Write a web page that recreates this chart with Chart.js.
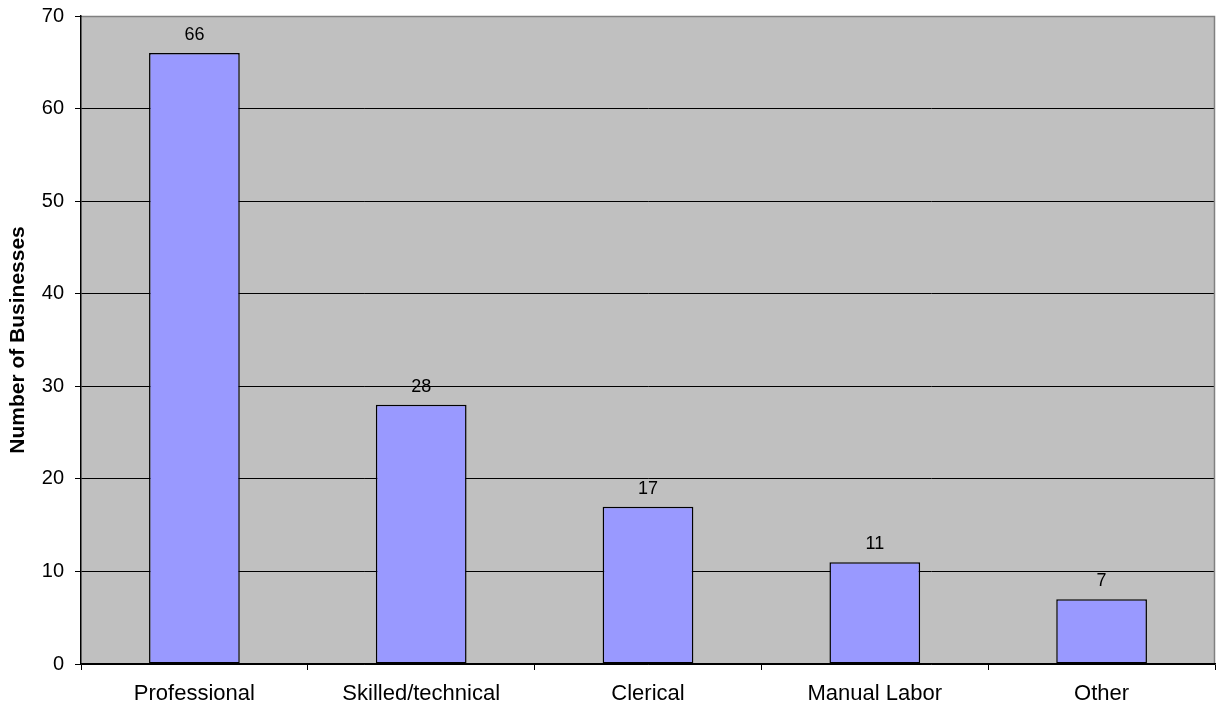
<!DOCTYPE html>
<html>
<head>
<meta charset="utf-8">
<script src="https://cdn.jsdelivr.net/npm/chart.js@4.4.1/dist/chart.umd.min.js"></script>
<style>
  html, body { margin: 0; padding: 0; background: #fff; }
  #wrap { width: 1218px; height: 706px; }
</style>
</head>
<body>
<div id="wrap"><canvas id="chart" width="1218" height="706"></canvas></div>
<script>
// --- datos ---
const categories = ['Professional', 'Skilled/technical', 'Clerical', 'Manual Labor', 'Other'];
const businesses = [66, 28, 17, 11, 7];
const yTicks = [0, 10, 20, 30, 40, 50, 60, 70];

const FONT = "'Liberation Sans', Arial, sans-serif";

// fondo gris del area del grafico + borde gris arriba/derecha
const plotBackground = {
  id: 'plotBackground',
  beforeDraw(chart) {
    const { ctx, chartArea: a } = chart;
    ctx.save();
    ctx.fillStyle = '#c0c0c0';
    ctx.fillRect(a.left, a.top, a.right - a.left, a.bottom - a.top);
    ctx.restore();
  },
  afterDraw(chart) {
    const { ctx, chartArea: a } = chart;
    ctx.save();
    ctx.strokeStyle = '#808080';
    ctx.lineWidth = 1.5;
    ctx.beginPath();
    ctx.moveTo(a.left + 1, a.top + 0.5);
    ctx.lineTo(a.right - 0.5, a.top + 0.5);
    ctx.lineTo(a.right - 0.5, a.bottom - 1);
    ctx.stroke();
    ctx.restore();
  }
};

// etiquetas de valor encima de cada barra
const valueLabels = {
  id: 'valueLabels',
  afterDatasetsDraw(chart) {
    const { ctx } = chart;
    const meta = chart.getDatasetMeta(0);
    ctx.save();
    ctx.font = '18px ' + FONT;
    ctx.fillStyle = '#000';
    ctx.textAlign = 'center';
    ctx.textBaseline = 'bottom';
    meta.data.forEach((bar, i) => {
      ctx.fillText(String(businesses[i]), bar.x, bar.y - 9);
    });
    ctx.restore();
  }
};

new Chart(document.getElementById('chart'), {
  type: 'bar',
  data: {
    labels: categories,
    datasets: [{
      data: businesses,
      backgroundColor: '#9999ff',
      borderColor: '#000',
      borderWidth: 1.5,
      borderSkipped: false,
      categoryPercentage: 0.4,
      barPercentage: 1
    }]
  },
  options: {
    responsive: false,
    animation: false,
    devicePixelRatio: 1,
    layout: { padding: { top: 16, right: 3, left: 0, bottom: 0 } },
    plugins: { legend: { display: false }, tooltip: { enabled: false } },
    scales: {
      x: {
        grid: { offset: true, drawOnChartArea: false, color: '#000', tickLength: 6 },
        border: { color: '#000', width: 1.5 },
        ticks: { color: '#000', font: { family: FONT, size: 22 }, padding: 11 },
        afterFit(scale) { scale.height = 42; }
      },
      y: {
        min: 0,
        max: 70,
        afterBuildTicks(scale) { scale.ticks = yTicks.map(v => ({ value: v })); },
        grid: { color: '#000', tickLength: 6 },
        border: { color: '#000', width: 1.5 },
        ticks: { color: '#000', font: { family: FONT, size: 20 }, padding: 11 },
        title: {
          display: true,
          text: 'Number of Businesses',
          color: '#000',
          font: { family: FONT, size: 21, weight: 'bold' },
          padding: { top: 6, bottom: 0 }
        },
        afterFit(scale) {
          scale.width = 81;
          scale.paddingTop = 0;
          scale.paddingBottom = 0;
        }
      }
    }
  },
  plugins: [plotBackground, valueLabels]
});
</script>
</body>
</html>
